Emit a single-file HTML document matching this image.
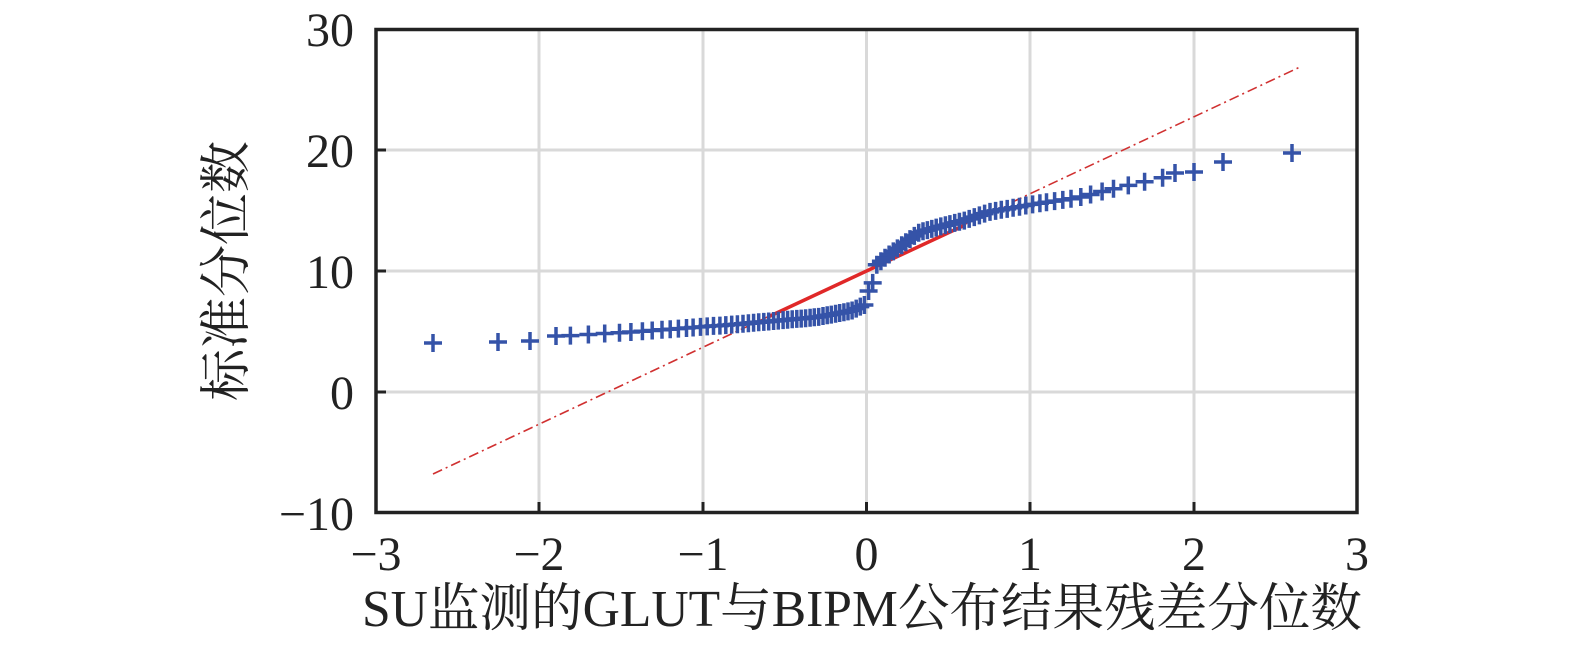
<!DOCTYPE html>
<html><head><meta charset="utf-8"><style>
body{margin:0;background:#fff;}
svg{display:block;}
text{font-family:"Liberation Serif","Noto Serif CJK SC",serif;fill:#222;}
</style></head><body>
<svg width="1575" height="647" xmlns="http://www.w3.org/2000/svg">
<defs><path id="p" d="M-9,0H9M0,-9V9" stroke="#3553a8" stroke-width="3.5"/></defs>
<g stroke="#d9d9d9" stroke-width="3">
<line x1="539" y1="30" x2="539" y2="512"/><line x1="703" y1="30" x2="703" y2="512"/>
<line x1="866.5" y1="30" x2="866.5" y2="512"/><line x1="1030" y1="30" x2="1030" y2="512"/>
<line x1="1194" y1="30" x2="1194" y2="512"/>
<line x1="376" y1="150" x2="1357" y2="150"/><line x1="376" y1="271" x2="1357" y2="271"/>
<line x1="376" y1="392" x2="1357" y2="392"/>
</g>
<line x1="433" y1="474" x2="1300" y2="67" stroke="#d03030" stroke-width="1.6" stroke-dasharray="10,4,2,4"/>
<line x1="768" y1="317" x2="965" y2="225" stroke="#e02828" stroke-width="3.5"/>
<g>
<use href="#p" x="433" y="343"/><use href="#p" x="498" y="342"/><use href="#p" x="530" y="341"/>
<use href="#p" x="556" y="336"/><use href="#p" x="570.4" y="335.6"/><use href="#p" x="588.4" y="334.5"/><use href="#p" x="604.7" y="333.5"/>
<use href="#p" x="619.5" y="332.7"/><use href="#p" x="630.9" y="332"/><use href="#p" x="642.4" y="331.2"/><use href="#p" x="652.2" y="330.5"/>
<use href="#p" x="662" y="329.8"/><use href="#p" x="670.2" y="329.2"/><use href="#p" x="678.4" y="328.6"/><use href="#p" x="686.5" y="328"/>
<use href="#p" x="693.1" y="327.5"/><use href="#p" x="700.5" y="326.9"/><use href="#p" x="707.2" y="326.4"/><use href="#p" x="713.5" y="325.9"/>
<use href="#p" x="719.9" y="325.6"/><use href="#p" x="725.8" y="325.1"/><use href="#p" x="731.7" y="324.6"/><use href="#p" x="737.4" y="324.2"/>
<use href="#p" x="743" y="323.7"/><use href="#p" x="748.4" y="323.3"/><use href="#p" x="753.6" y="322.8"/><use href="#p" x="758.7" y="322.3"/>
<use href="#p" x="763.8" y="321.9"/><use href="#p" x="768.7" y="321.5"/><use href="#p" x="773.6" y="321"/><use href="#p" x="778.3" y="320.6"/>
<use href="#p" x="783.1" y="320.1"/><use href="#p" x="787.6" y="319.8"/><use href="#p" x="792.2" y="319.3"/><use href="#p" x="796.8" y="318.9"/>
<use href="#p" x="801.2" y="318.6"/><use href="#p" x="805.6" y="318.2"/><use href="#p" x="810.1" y="317.7"/><use href="#p" x="814.3" y="317.3"/>
<use href="#p" x="818.7" y="316.9"/><use href="#p" x="823" y="316"/><use href="#p" x="827.2" y="315.3"/><use href="#p" x="831.3" y="314.6"/>
<use href="#p" x="835.6" y="313.7"/><use href="#p" x="839.7" y="313"/><use href="#p" x="843.9" y="312.3"/><use href="#p" x="848" y="311.4"/>
<use href="#p" x="852.1" y="310.5"/><use href="#p" x="856.2" y="308.6"/><use href="#p" x="860.3" y="306.6"/><use href="#p" x="864.4" y="305"/>
<use href="#p" x="868.6" y="291"/><use href="#p" x="872.7" y="282.9"/><use href="#p" x="876.8" y="264.7"/><use href="#p" x="880.9" y="261.2"/>
<use href="#p" x="885" y="257.7"/><use href="#p" x="889.1" y="254.5"/><use href="#p" x="893.3" y="251.4"/><use href="#p" x="897.4" y="248.4"/>
<use href="#p" x="901.7" y="245.2"/><use href="#p" x="905.8" y="242.2"/><use href="#p" x="910" y="239.1"/><use href="#p" x="914.3" y="235.9"/>
<use href="#p" x="918.7" y="232.7"/><use href="#p" x="923" y="231.3"/><use href="#p" x="927.4" y="230.1"/><use href="#p" x="931.8" y="228.9"/>
<use href="#p" x="936.2" y="227.6"/><use href="#p" x="940.8" y="226.4"/><use href="#p" x="945.4" y="225.2"/><use href="#p" x="949.9" y="224.1"/>
<use href="#p" x="954.7" y="222.9"/><use href="#p" x="959.4" y="221.8"/><use href="#p" x="964.3" y="220.6"/><use href="#p" x="969.2" y="218.9"/>
<use href="#p" x="974.3" y="217.1"/><use href="#p" x="979.4" y="215.4"/><use href="#p" x="984.6" y="213.6"/><use href="#p" x="990" y="211.9"/>
<use href="#p" x="995.6" y="210.9"/><use href="#p" x="1001.3" y="209.8"/><use href="#p" x="1007.2" y="208.9"/><use href="#p" x="1013.1" y="207.8"/>
<use href="#p" x="1019.5" y="206.7"/><use href="#p" x="1025.8" y="205.5"/><use href="#p" x="1032.6" y="204.4"/><use href="#p" x="1039.9" y="203.3"/>
<use href="#p" x="1046.5" y="202.3"/><use href="#p" x="1054.6" y="201.1"/><use href="#p" x="1062.8" y="199.9"/><use href="#p" x="1071" y="198.7"/>
<use href="#p" x="1080.8" y="197"/><use href="#p" x="1090.6" y="194.5"/><use href="#p" x="1102.1" y="191.5"/><use href="#p" x="1113.5" y="188.7"/>
<use href="#p" x="1128.3" y="185.4"/><use href="#p" x="1144.6" y="181.8"/><use href="#p" x="1162.6" y="177.8"/><use href="#p" x="1175" y="173"/>
<use href="#p" x="1194" y="172"/><use href="#p" x="1223" y="162"/><use href="#p" x="1292" y="153"/>
</g>
<rect x="376" y="29.5" width="981" height="483" fill="none" stroke="#222" stroke-width="3.5"/>
<g stroke="#222" stroke-width="3">
<line x1="539" y1="512" x2="539" y2="502"/><line x1="703" y1="512" x2="703" y2="502"/>
<line x1="866.5" y1="512" x2="866.5" y2="502"/><line x1="1030" y1="512" x2="1030" y2="502"/>
<line x1="1194" y1="512" x2="1194" y2="502"/>
<line x1="376" y1="150" x2="386" y2="150"/><line x1="376" y1="271" x2="386" y2="271"/><line x1="376" y1="392" x2="386" y2="392"/>
</g>
<g font-size="48" text-anchor="end">
<text x="354" y="46">30</text><text x="354" y="167">20</text><text x="354" y="288">10</text>
<text x="354" y="409">0</text><text x="354" y="530">−10</text>
</g>
<g font-size="48" text-anchor="middle">
<text x="376" y="570">−3</text><text x="539" y="570">−2</text><text x="703" y="570">−1</text>
<text x="866.5" y="570">0</text><text x="1030" y="570">1</text><text x="1194" y="570">2</text><text x="1357" y="570">3</text>
</g>
<text x="862" y="626" font-size="52" text-anchor="middle" textLength="1000" lengthAdjust="spacingAndGlyphs">SU监测的GLUT与BIPM公布结果残差分位数</text>
<text transform="translate(244,271) rotate(-90)" font-size="52" text-anchor="middle">标准分位数</text>
</svg>
</body></html>
